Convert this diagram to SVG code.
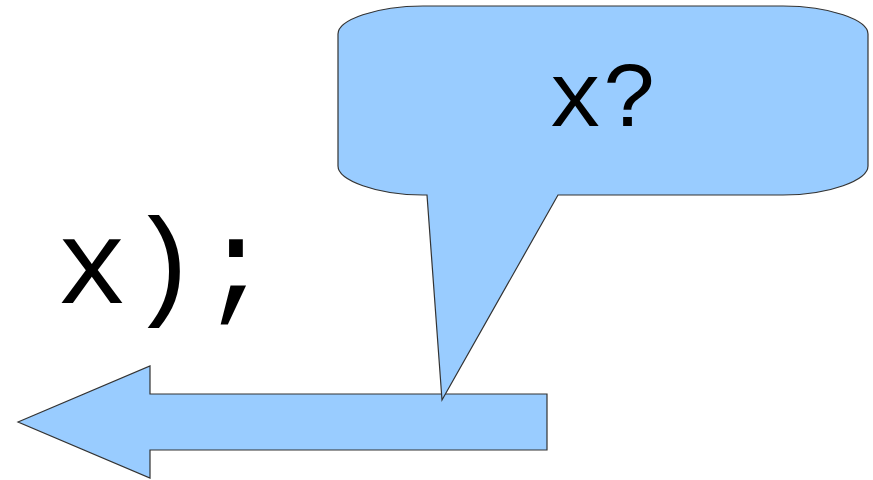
<svg xmlns="http://www.w3.org/2000/svg" width="873" height="480" viewBox="0 0 873 480">
<style>
.shape{fill:#99ccff;stroke:#333;stroke-width:1.2;stroke-linejoin:miter}
.mono{font-family:"Liberation Mono","Courier New",monospace;fill:#000}
</style>
<rect width="873" height="480" fill="#fff"/>
<g id="arrow">
<path class="shape" d="M18,422 L150,366 L150,394 L547,394 L547,450 L150,450 L150,478 Z"/>
</g>
<g id="bubble">
<path class="shape" d="M423,6 L783,6 C830,6 868,20 868,34 L868,166 C868,180 830,195 783,195 L558,195 L442,400 L427,195 L423,195 C376,195 338,180 338,166 L338,34 C338,20 376,6 423,6 Z"/>
<text class="mono" x="603" y="126" font-size="92" text-anchor="middle">x?</text>
</g>
<g id="code">
<text class="mono" x="56" y="303" font-size="120">x);</text>
</g>
<g id="connectors"></g>
</svg>
